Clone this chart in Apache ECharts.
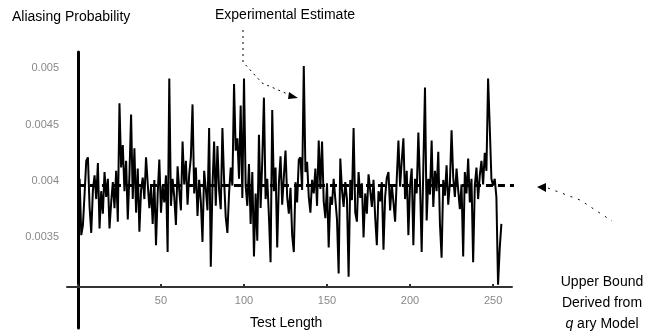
<!DOCTYPE html>
<html>
<head>
<meta charset="utf-8">
<script src="https://cdn.jsdelivr.net/npm/echarts@6/dist/echarts.min.js"></script>
<style>
  html, body { margin: 0; padding: 0; background: #fff; }
  #main { width: 656px; height: 334px; }
</style>
</head>
<body>
<div id="main"></div>
<script>
// aliasing probability per test length (index = test length)
const estimate = [
  0.00398, 0.00402, 0.00352, 0.00361, 0.00389, 0.00418, 0.00421, 0.00377, 0.00354, 0.00392,
  0.00405, 0.00384, 0.00416, 0.00358, 0.00391, 0.00371, 0.00408, 0.00386, 0.00402, 0.00358,
  0.00381, 0.00399, 0.00376, 0.00409, 0.00364, 0.00469, 0.00412, 0.00432, 0.00391, 0.00418,
  0.00366, 0.00405, 0.00459, 0.00384, 0.00429, 0.00372, 0.00411, 0.00355, 0.00392, 0.00403,
  0.00384, 0.00421, 0.00398, 0.00376, 0.00395, 0.00362, 0.00401, 0.00343, 0.00388, 0.00419,
  0.00372, 0.00396, 0.00381, 0.00405, 0.00337, 0.00491, 0.00378, 0.00402, 0.00386, 0.00361,
  0.00413, 0.00392, 0.00374, 0.00435, 0.00397, 0.00418, 0.00379, 0.00406, 0.00421, 0.00468,
  0.00389, 0.00412, 0.00369, 0.00401, 0.00382, 0.00346, 0.00409, 0.00393, 0.00374, 0.00447,
  0.00324, 0.00395, 0.00435, 0.00378, 0.00431, 0.00392, 0.00375, 0.00447, 0.00401, 0.00368,
  0.00354, 0.00389, 0.00412, 0.00396, 0.00486, 0.00427, 0.00438, 0.00402, 0.00467, 0.00385,
  0.00491, 0.00396, 0.00378, 0.00415, 0.00362, 0.00408, 0.00333, 0.00389, 0.00347, 0.00441,
  0.00376, 0.00418, 0.00474, 0.00384, 0.00402, 0.00369, 0.00328, 0.00463, 0.00391, 0.00412,
  0.00341, 0.00398, 0.00422, 0.00379, 0.00404, 0.00427, 0.00386, 0.00371, 0.00394, 0.00352,
  0.00337, 0.00399, 0.00381, 0.00419, 0.00421, 0.00392, 0.00502, 0.00408, 0.00417, 0.00386,
  0.00372, 0.00401, 0.00389, 0.00411, 0.00378, 0.00436, 0.00393, 0.00435, 0.00382, 0.00367,
  0.00398, 0.00341, 0.00386, 0.00379, 0.00402, 0.00403, 0.00366, 0.00318, 0.00420, 0.00392,
  0.00377, 0.00399, 0.00384, 0.00315, 0.00401, 0.00383, 0.00447, 0.00372, 0.00364, 0.00408,
  0.00385, 0.00398, 0.00350, 0.00389, 0.00371, 0.00406, 0.00392, 0.00377, 0.00401, 0.00368,
  0.00343, 0.00391, 0.00382, 0.00399, 0.00339, 0.00386, 0.00403, 0.00408, 0.00374, 0.00397,
  0.00381, 0.00364, 0.00402, 0.00436, 0.00395, 0.00418, 0.00438, 0.00384, 0.00409, 0.00352,
  0.00396, 0.00411, 0.00343, 0.00402, 0.00389, 0.00443, 0.00398, 0.00337, 0.00412, 0.00483,
  0.00365, 0.00402, 0.00388, 0.00436, 0.00377, 0.00409, 0.00391, 0.00426, 0.00362, 0.00332,
  0.00401, 0.00387, 0.00414, 0.00379, 0.00398, 0.00445, 0.00403, 0.00386, 0.00411, 0.00392,
  0.00375, 0.00397, 0.00333, 0.00408, 0.00389, 0.00420, 0.00381, 0.00402, 0.00328, 0.00396,
  0.00412, 0.00384, 0.00405, 0.00418, 0.00397, 0.00425, 0.00409, 0.00491, 0.00448, 0.00402,
  0.00396, 0.00402, 0.00386, 0.00308, 0.00340, 0.00362
];

// q-ary model upper bound (flat), drawn a bit past the last test length
const boundX = [0, 275];
const boundY = [0.00396, 0.00396];

const xTicks = [50, 100, 150, 200, 250];
const yTicks = [0.0035, 0.004, 0.0045, 0.005];

const font = 'Liberation Sans, Arial, sans-serif';

let chart = echarts.init(document.getElementById('main'), null, { renderer: 'canvas' });

let option = {
  animation: false,
  backgroundColor: '#fff',
  grid: { left: 67, right: 144, top: 52, bottom: 6, containLabel: false },
  xAxis: {
    type: 'value',
    min: -6.6,
    max: 261.4,
    offset: -41,
    splitLine: { show: false },
    axisLine: { show: true, lineStyle: { color: '#333', width: 2 } },
    axisTick: { show: true, inside: true, length: 3, lineStyle: { color: '#333', width: 2 } },
    axisLabel: {
      color: '#888', fontSize: 11, fontFamily: font, margin: 8,
      showMinLabel: false, showMaxLabel: false,
      formatter: function (v) { return xTicks.indexOf(v) >= 0 ? String(v) : ''; }
    }
  },
  yAxis: {
    type: 'value',
    min: 0.002696,
    max: 0.005145,
    splitLine: { show: false },
    axisLine: { show: true, onZero: true, lineStyle: { color: '#000', width: 3 } },
    axisTick: { show: false },
    axisLabel: {
      color: '#888', fontSize: 11, fontFamily: font, margin: 8,
      showMinLabel: false, showMaxLabel: false,
      formatter: function (v) {
        for (let i = 0; i < yTicks.length; i++) {
          if (Math.abs(v - yTicks[i]) < 1e-9) return String(yTicks[i]);
        }
        return '';
      }
    }
  },
  series: [
    {
      name: 'Experimental Estimate',
      type: 'line',
      data: estimate.map(function (v, i) { return [i, v]; }),
      showSymbol: false,
      lineStyle: { color: '#000', width: 2 },
      z: 3
    },
    {
      name: 'Upper Bound',
      type: 'line',
      clip: false,
      data: boundX.map(function (x, i) { return [x, boundY[i]]; }),
      showSymbol: false,
      lineStyle: { color: '#000', width: 3, type: [7, 5] },
      z: 4
    }
  ],
  graphic: [
    { type: 'text', left: 12, top: 10, style: { text: 'Aliasing Probability', font: '14px ' + font, fill: '#000' } },
    { type: 'text', left: 215, top: 8, style: { text: 'Experimental Estimate', font: '14px ' + font, fill: '#000' } },
    { type: 'text', left: 250, top: 316, style: { text: 'Test Length', font: '14px ' + font, fill: '#000' } },
    {
      type: 'text', x: 602, y: 272,
      style: {
        text: 'Upper Bound\nDerived from\n{q|q} ary Model',
        font: '14px ' + font, fill: '#000', align: 'center', verticalAlign: 'top', lineHeight: 21,
        rich: { q: { fontStyle: 'italic', fontSize: 14, fontFamily: font } }
      }
    },
    // pointer from "Experimental Estimate"
    { type: 'polyline', shape: { points: [[243, 30], [243, 62], [262, 83], [290, 95]] }, style: { stroke: '#000', lineWidth: 1, lineDash: [2, 4], fill: null } },
    { type: 'polygon', shape: { points: [[298, 98], [289, 92], [288, 99]] }, style: { fill: '#000' } },
    // pointer from "Upper Bound" label
    { type: 'polyline', shape: { points: [[548, 188], [580, 200], [612, 221]] }, style: { stroke: '#000', lineWidth: 1, lineDash: [2, 6], fill: null } },
    { type: 'polygon', shape: { points: [[537, 187], [546, 183], [546, 192]] }, style: { fill: '#000' } }
  ]
};

chart.setOption(option);
</script>
</body>
</html>
